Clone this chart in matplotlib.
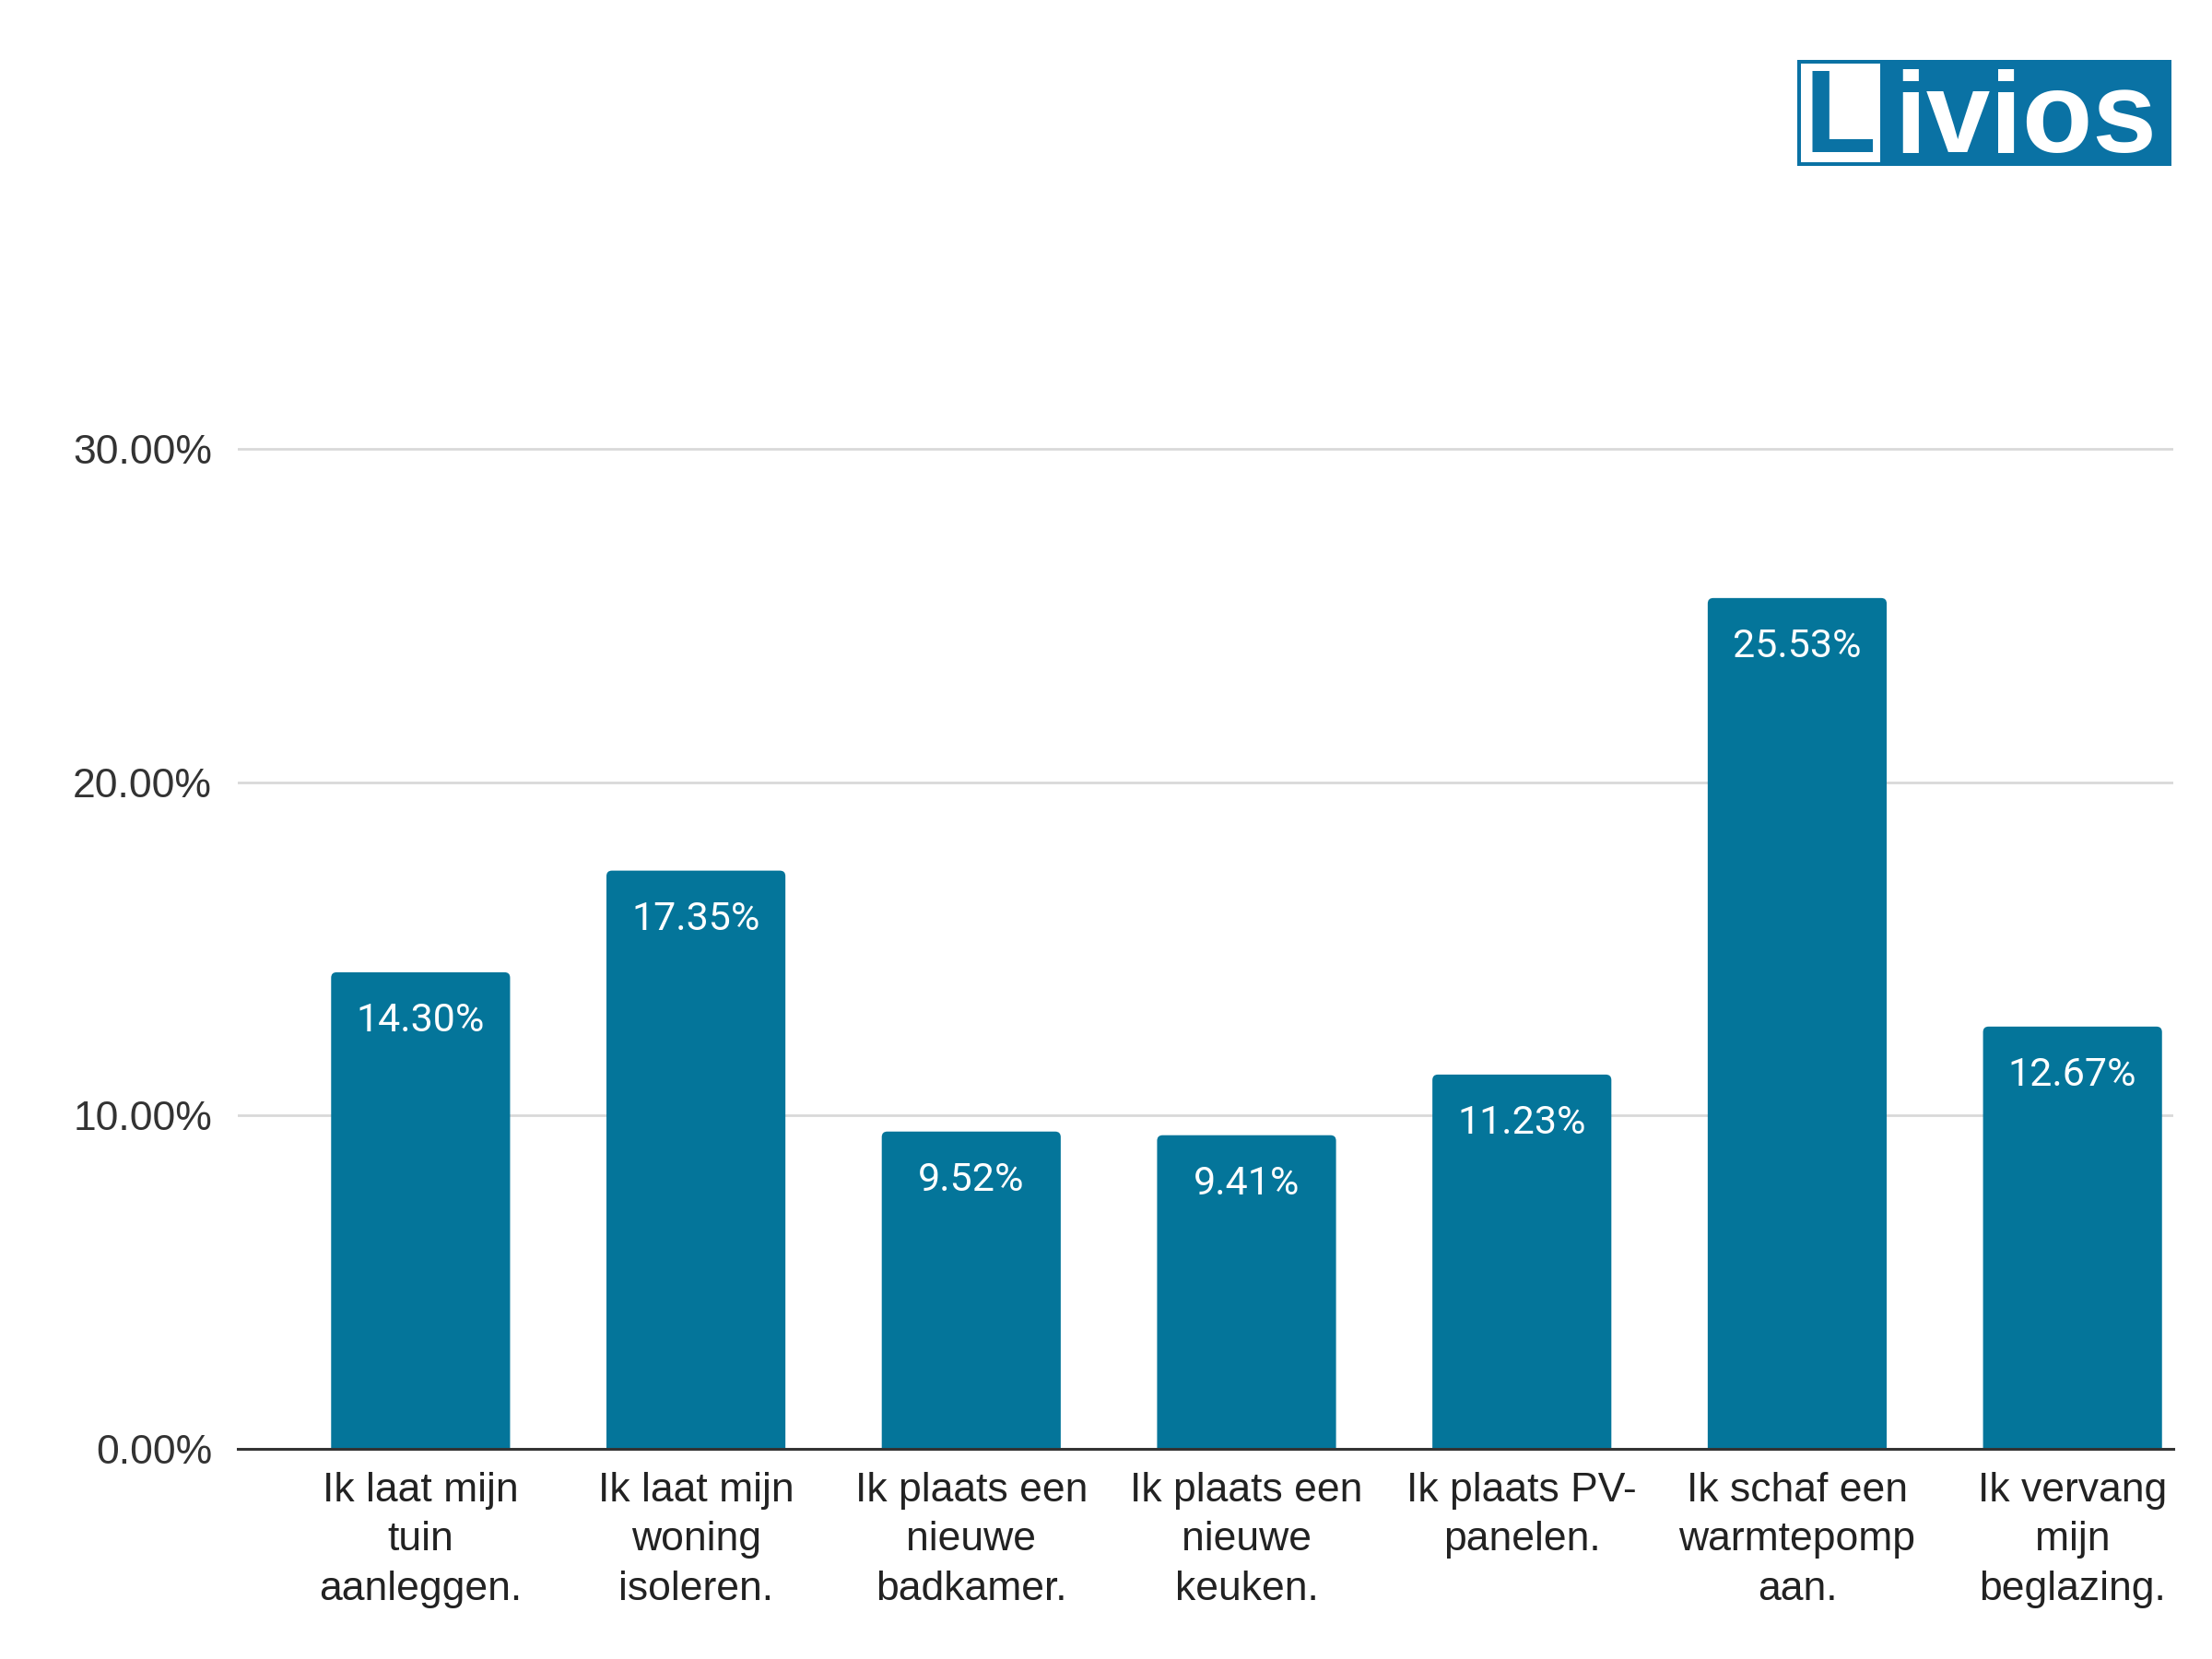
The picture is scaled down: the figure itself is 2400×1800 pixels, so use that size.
import matplotlib
matplotlib.use("Agg")
import matplotlib.pyplot as plt
from matplotlib.patches import Rectangle, FancyBboxPatch
from matplotlib.ticker import FuncFormatter

categories = [
    "Ik laat mijn\ntuin\naanleggen.",
    "Ik laat mijn\nwoning\nisoleren.",
    "Ik plaats een\nnieuwe\nbadkamer.",
    "Ik plaats een\nnieuwe\nkeuken.",
    "Ik plaats PV-\npanelen.",
    "Ik schaf een\nwarmtepomp\naan.",
    "Ik vervang\nmijn\nbeglazing.",
]
values = [14.30, 17.35, 9.52, 9.41, 11.23, 25.53, 12.67]
yticks = [0, 10, 20, 30]

bar_color = "#04759a"
logo_color = "#0a72a4"

plt.rcParams["font.family"] = ["Liberation Sans", "DejaVu Sans"]

fig = plt.figure(figsize=(12, 9), dpi=200)
ax = fig.add_axes([0.1075, 0.1267, 0.875, 0.6227])

x = list(range(len(values)))
width = 0.65
ax.set_xlim(-0.664, len(values) - 1 + 0.366)
ax.set_ylim(0, 31)

# bars with slightly rounded tops (bottom corners hidden below the axis)
aspect = (ax.get_xlim()[1] - ax.get_xlim()[0]) / 2100.0
aspect_y = 31 / (0.6227 * 1800)
for xi, v in zip(x, values):
    p = FancyBboxPatch((xi - width / 2, -1), width, v + 1,
                       boxstyle="round,pad=0,rounding_size=0.02",
                       mutation_aspect=aspect_y / aspect,
                       facecolor=bar_color, edgecolor="none", zorder=3)
    ax.add_patch(p)
    ax.annotate("{:.2f}%".format(v), xy=(xi, v), xytext=(0, -23.0),
                textcoords="offset points", ha="center", va="baseline",
                color="white", fontsize=15.5, family=["Roboto", "DejaVu Sans"],
                zorder=4)

ax.set_yticks(yticks)
ax.yaxis.set_major_formatter(FuncFormatter(lambda v, p: "{:.2f}%".format(v)))
ax.set_xticks(x)
ax.set_xticklabels(categories, fontsize=16, color="#222222", linespacing=1.39)
ax.tick_params(axis="x", length=0, pad=9)
ax.tick_params(axis="y", length=0, pad=10, labelsize=16, labelcolor="#333333")

ax.grid(axis="y", color="#d9d9d9", linewidth=1.0, zorder=0)
for s in ["top", "right", "left"]:
    ax.spines[s].set_visible(False)
ax.spines["bottom"].set_color("#333333")
ax.spines["bottom"].set_linewidth(1.1)
ax.spines["bottom"].set_zorder(5)

# Livios logo
W, H = 2400.0, 1800.0
x0, x1, y0, y1 = 1950, 2356, 65, 180
fig.add_artist(Rectangle((x0 / W, 1 - y1 / H), (x1 - x0) / W, (y1 - y0) / H,
                         transform=fig.transFigure, facecolor=logo_color,
                         edgecolor="none"))
fig.add_artist(Rectangle(((x0 + 4) / W, 1 - (y1 - 4) / H), (2040 - x0 - 4) / W,
                         (y1 - y0 - 8) / H, transform=fig.transFigure,
                         facecolor="white", edgecolor="none"))
fig.text(1996 / W, 1 - 165 / H, "L", ha="center", va="baseline",
         fontsize=46, fontweight="bold", color=logo_color)
fig.text(2198 / W, 1 - 165 / H, "ivios", ha="center", va="baseline",
         fontsize=45, fontweight="bold", color="white")

fig.savefig("out.png", dpi=200, facecolor="white")
